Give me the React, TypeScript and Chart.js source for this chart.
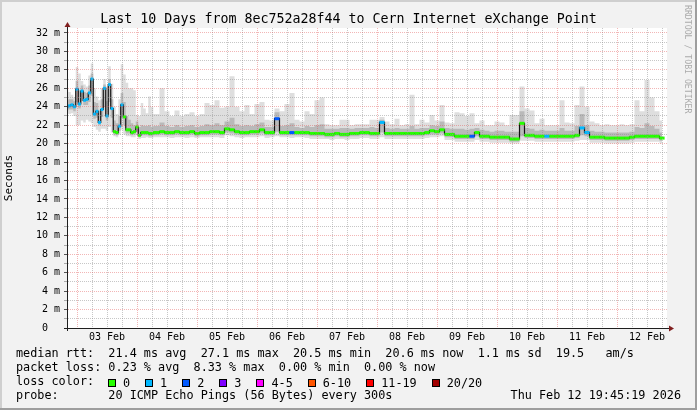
import React, { useEffect, useRef } from 'react';
import { Chart, registerables } from 'chart.js';
Chart.register(...registerables);

// ---- DATA ----
// sample times in hours since 02 Feb 00:00 (hourly for first 36 samples, then every 2 hours)
const HOURLY_START = 20;
const HOURLY_COUNT = 36;
const TWO_HOUR_START = 56;
const TWO_HOUR_COUNT = 102;

const median = [
  24.0, 24.1, 24.2, 24.0, 25.9, 24.3, 25.7, 24.7, 24.8, 25.5,
  27.0, 23.2, 23.5, 22.3, 23.7, 26.0, 23.0, 26.4, 23.8, 21.3,
  21.2, 21.9, 24.2, 22.9, 21.5, 21.5, 21.2, 21.3, 21.8, 20.9,
  21.2, 21.2, 21.2, 21.1, 21.1, 21.2,
  21.2, 21.3, 21.2, 21.2, 21.3, 21.2, 21.2, 21.3, 21.1, 21.2,
  21.2, 21.3, 21.3, 21.2, 21.6, 21.5, 21.3, 21.2, 21.2, 21.3,
  21.3, 21.5, 21.2, 21.2, 22.7, 21.2, 21.2, 21.2, 21.2, 21.2,
  21.2, 21.1, 21.1, 21.1, 21.0, 21.0, 21.1, 21.0, 21.0, 21.1,
  21.1, 21.2, 21.2, 21.1, 21.1, 22.3, 21.1, 21.1, 21.1, 21.1,
  21.1, 21.1, 21.1, 21.1, 21.2, 21.4, 21.3, 21.5, 21.0, 21.0,
  20.8, 20.8, 20.8, 20.8, 21.2, 20.8, 20.8, 20.7, 20.7, 20.7,
  20.7, 20.5, 20.5, 22.2, 20.9, 20.9, 20.8, 20.8, 20.8, 20.8,
  20.8, 20.8, 20.8, 20.8, 20.9, 21.7, 21.2, 20.7, 20.7, 20.7,
  20.6, 20.6, 20.6, 20.6, 20.6, 20.7, 20.8, 20.8, 20.8, 20.8,
  20.8, 20.6,
];

// lost pings (of 20) per sample
const lostPings = [
  1, 1, 1, 1, 1, 1, 1, 1, 1, 1,
  1, 1, 1, 1, 1, 1, 1, 1, 1, 0,
  0, 1, 1, 0, 0, 0, 0, 0, 0, 0,
  0, 0, 0, 0, 0, 0,
  0, 0, 0, 0, 0, 0, 0, 0, 0, 0,
  0, 0, 0, 0, 0, 0, 0, 0, 0, 0,
  0, 0, 0, 0, 2, 0, 0, 2, 0, 0,
  0, 0, 0, 0, 0, 0, 0, 0, 0, 0,
  0, 0, 0, 0, 0, 1, 0, 0, 0, 0,
  0, 0, 0, 0, 0, 0, 0, 0, 0, 0,
  0, 0, 0, 2, 0, 0, 0, 0, 0, 0,
  0, 0, 0, 0, 0, 0, 0, 0, 1, 0,
  0, 0, 0, 0, 0, 1, 1, 0, 0, 0,
  0, 0, 0, 0, 0, 0, 0, 0, 0, 0,
  0, 0,
];

const smokeMax = [
  25.8, 25.6, 25.3, 25.0, 28.3, 27.6, 26.8, 26.4, 26.2, 27.4,
  28.7, 26.0, 25.1, 24.7, 26.0, 27.0, 26.2, 28.4, 26.5, 24.0,
  23.2, 24.8, 28.6, 27.5, 26.6, 26.0, 26.0, 25.8, 23.1, 23.0,
  24.4, 23.8, 23.3, 25.1, 24.0, 23.2,
  23.2, 26.0, 23.5, 23.0, 23.6, 23.0, 23.2, 23.4, 23.0, 23.2,
  24.4, 24.2, 24.7, 23.9, 24.0, 27.3, 24.0, 23.5, 24.2, 23.2,
  24.3, 24.5, 22.6, 22.5, 23.8, 23.5, 24.3, 25.5, 22.6, 22.4,
  23.5, 23.2, 24.7, 25.0, 22.1, 22.0, 22.0, 22.6, 22.6, 22.0,
  22.1, 22.1, 22.1, 22.6, 22.6, 22.9, 22.4, 22.1, 22.7, 22.0,
  22.1, 25.3, 22.1, 22.6, 22.3, 23.1, 22.5, 24.2, 22.3, 22.2,
  23.4, 23.3, 23.0, 23.3, 22.2, 22.5, 22.0, 22.0, 22.4, 22.3,
  22.0, 23.1, 23.1, 26.2, 23.8, 23.6, 22.2, 22.7, 22.0, 22.0,
  22.0, 24.7, 22.3, 22.2, 24.2, 26.2, 24.0, 22.4, 22.2, 22.0,
  22.1, 22.0, 22.0, 22.1, 22.0, 22.1, 24.7, 23.5, 26.9, 25.0,
  23.5, 22.5,
];

const smokeHi = [
  24.7, 24.8, 24.8, 24.6, 26.8, 25.8, 26.3, 25.6, 25.5, 26.3,
  27.6, 24.5, 24.4, 23.6, 24.8, 26.4, 24.6, 27.0, 24.8, 22.5,
  22.2, 23.0, 25.5, 24.5, 23.0, 22.6, 22.2, 22.0, 22.4, 21.8,
  22.0, 21.9, 21.9, 22.0, 21.8, 21.9,
  21.9, 22.3, 21.9, 21.8, 22.0, 21.8, 21.9, 22.0, 21.8, 21.9,
  22.1, 22.0, 22.2, 22.0, 22.4, 22.8, 22.1, 21.9, 22.0, 21.9,
  22.1, 22.3, 21.8, 21.8, 23.4, 21.9, 22.0, 22.2, 21.8, 21.7,
  21.9, 21.8, 22.0, 22.1, 21.6, 21.6, 21.6, 21.7, 21.7, 21.6,
  21.7, 21.7, 21.7, 21.8, 21.7, 22.6, 21.7, 21.6, 21.7, 21.6,
  21.6, 21.9, 21.6, 21.7, 21.7, 22.0, 21.9, 22.4, 21.7, 21.6,
  21.6, 21.6, 21.5, 21.6, 21.7, 21.5, 21.4, 21.3, 21.4, 21.4,
  21.3, 21.3, 21.3, 23.5, 21.7, 21.6, 21.4, 21.5, 21.4, 21.4,
  21.4, 21.7, 21.4, 21.4, 21.9, 23.2, 22.0, 21.4, 21.3, 21.3,
  21.2, 21.2, 21.2, 21.2, 21.2, 21.3, 21.8, 21.7, 22.2, 21.9,
  21.6, 21.2,
];

const smokeLo = [
  23.6, 23.7, 23.7, 23.5, 24.5, 23.8, 24.6, 24.2, 24.2, 24.5,
  25.2, 22.7, 22.8, 22.0, 22.9, 24.0, 22.5, 24.5, 22.8, 21.0,
  20.9, 21.4, 22.8, 22.0, 21.1, 21.1, 20.9, 21.0, 21.3, 20.7,
  20.9, 20.9, 20.9, 20.8, 20.8, 20.9,
  20.9, 21.0, 20.9, 20.9, 21.0, 20.9, 20.9, 21.0, 20.8, 20.9,
  20.9, 21.0, 21.0, 20.9, 21.2, 21.1, 21.0, 20.9, 20.9, 21.0,
  21.0, 21.1, 20.9, 20.9, 21.3, 20.9, 20.9, 20.9, 20.9, 20.9,
  20.9, 20.8, 20.8, 20.8, 20.7, 20.7, 20.8, 20.7, 20.7, 20.8,
  20.8, 20.9, 20.9, 20.8, 20.8, 21.2, 20.8, 20.8, 20.8, 20.8,
  20.8, 20.8, 20.8, 20.8, 20.9, 21.0, 21.0, 21.1, 20.7, 20.7,
  20.5, 20.5, 20.5, 20.5, 20.8, 20.5, 20.5, 20.4, 20.4, 20.4,
  20.4, 20.2, 20.2, 20.8, 20.6, 20.6, 20.5, 20.5, 20.5, 20.5,
  20.5, 20.5, 20.5, 20.5, 20.6, 20.9, 20.8, 20.4, 20.4, 20.4,
  20.3, 20.3, 20.3, 20.3, 20.3, 20.4, 20.5, 20.5, 20.5, 20.5,
  20.5, 20.3,
];

const smokeMin = [
  23.3, 23.2, 23.3, 23.0, 22.0, 22.0, 22.5, 22.3, 22.6, 22.4,
  22.2, 21.8, 21.5, 21.3, 21.6, 21.6, 21.4, 21.8, 21.2, 20.8,
  20.7, 21.0, 21.5, 21.0, 20.8, 20.8, 20.7, 20.7, 20.9, 20.5,
  20.6, 20.6, 20.7, 20.6, 20.6, 20.7,
  20.7, 20.7, 20.7, 20.6, 20.7, 20.7, 20.6, 20.7, 20.6, 20.7,
  20.7, 20.7, 20.7, 20.6, 20.9, 20.8, 20.7, 20.6, 20.7, 20.7,
  20.7, 20.8, 20.6, 20.7, 20.8, 20.7, 20.7, 20.6, 20.7, 20.7,
  20.6, 20.5, 20.5, 20.5, 20.5, 20.4, 20.5, 20.5, 20.4, 20.5,
  20.5, 20.6, 20.6, 20.5, 20.5, 20.7, 20.5, 20.5, 20.5, 20.5,
  20.5, 20.5, 20.5, 20.5, 20.6, 20.7, 20.7, 20.8, 20.4, 20.4,
  20.2, 20.2, 20.2, 20.2, 20.4, 20.2, 20.2, 20.1, 20.1, 20.1,
  20.1, 20.0, 20.0, 20.3, 20.3, 20.3, 20.2, 20.2, 20.2, 20.2,
  20.2, 20.2, 20.2, 20.2, 20.3, 20.4, 20.4, 20.1, 20.1, 20.1,
  20.0, 20.0, 20.0, 20.0, 20.0, 20.1, 20.2, 20.2, 20.2, 20.2,
  20.2, 20.0,
];

const dayLabels = ['03 Feb', '04 Feb', '05 Feb', '06 Feb', '07 Feb', '08 Feb', '09 Feb', '10 Feb', '11 Feb', '12 Feb'];

const lossLegend = [
  { label: '0', max: 0, color: '#26ff00' },
  { label: '1', max: 1, color: '#00b8ff' },
  { label: '2', max: 2, color: '#0059ff' },
  { label: '3', max: 3, color: '#7e00ff' },
  { label: '4-5', max: 5, color: '#ff00ff' },
  { label: '6-10', max: 10, color: '#ff5500' },
  { label: '11-19', max: 19, color: '#ff0000' },
  { label: '20/20', max: 20, color: '#a10000' },
];

const TITLE = 'Last 10 Days from 8ec752a28f44 to Cern Internet eXchange Point';
const STATS_RTT = 'median rtt:  21.4 ms avg  27.1 ms max  20.5 ms min  20.6 ms now  1.1 ms sd  19.5   am/s';
const STATS_LOSS = 'packet loss: 0.23 % avg  8.33 % max  0.00 % min  0.00 % now';
const PROBE = 'probe:       20 ICMP Echo Pings (56 Bytes) every 300s';
const STAMP = 'Thu Feb 12 19:45:19 2026';
const WATERMARK = 'RRDTOOL / TOBI OETIKER';

// ---- helpers ----
const sampleTimes: number[] = [];
for (let i = 0; i < HOURLY_COUNT; i++) sampleTimes.push(HOURLY_START + i);
for (let k = 0; k < TWO_HOUR_COUNT; k++) sampleTimes.push(TWO_HOUR_START + 2 * k);

const toPoints = (vals: number[]) => vals.map((y, i) => ({ x: sampleTimes[i], y }));
const lossColor = (n: number) => {
  for (const l of lossLegend) if (n <= l.max) return l.color;
  return '#a10000';
};

const X_MIN = 20;
const X_MAX = 260;
const xTickValues: number[] = [];
for (let t = 24; t < X_MAX; t += 6) xTickValues.push(t);

const MONO = "'DejaVu Sans Mono', monospace";
const MAJOR = 'rgba(225,80,80,0.42)';
const MINOR = 'rgba(143,143,143,0.5)';

const bgPlugin = {
  id: 'canvasBg',
  beforeDraw(chart: any) {
    const { ctx, chartArea: a } = chart;
    ctx.save();
    ctx.fillStyle = '#ffffff';
    ctx.fillRect(a.left, a.top, a.right - a.left, a.bottom - a.top);
    ctx.restore();
  },
};

const arrowPlugin = {
  id: 'axisArrows',
  afterDraw(chart: any) {
    const { ctx, chartArea: a } = chart;
    ctx.save();
    ctx.strokeStyle = '#1f1f1f';
    ctx.lineWidth = 1;
    ctx.beginPath();
    ctx.moveTo(a.left + 0.5, a.top - 3);
    ctx.lineTo(a.left + 0.5, a.bottom + 3);
    ctx.stroke();
    ctx.beginPath();
    ctx.moveTo(a.left - 3, a.bottom + 0.5);
    ctx.lineTo(a.right + 4, a.bottom + 0.5);
    ctx.stroke();
    ctx.fillStyle = '#801f1f';
    ctx.beginPath();
    ctx.moveTo(a.left + 0.5, a.top - 6);
    ctx.lineTo(a.left - 2.5, a.top - 1);
    ctx.lineTo(a.left + 3.5, a.top - 1);
    ctx.closePath();
    ctx.fill();
    ctx.beginPath();
    ctx.moveTo(a.right + 7, a.bottom + 0.5);
    ctx.lineTo(a.right + 2, a.bottom - 2.5);
    ctx.lineTo(a.right + 2, a.bottom + 3.5);
    ctx.closePath();
    ctx.fill();
    ctx.restore();
  },
};

export default function App() {
  const ref = useRef<HTMLCanvasElement | null>(null);

  useEffect(() => {
    if (!ref.current) return;
    const band = (vals: number[], fill: any, color: string) => ({
      data: toPoints(vals),
      stepped: 'middle' as const,
      borderWidth: 0,
      borderColor: 'transparent',
      backgroundColor: color,
      pointRadius: 0,
      fill,
    });
    const chart = new Chart(ref.current, {
      type: 'line',
      data: {
        datasets: [
          {
            data: toPoints(median),
            showLine: false,
            pointStyle: 'line',
            pointRadius: (c: any) => (c.dataIndex < HOURLY_COUNT ? 1.4 : 2.6),
            pointBorderWidth: 3,
            pointBorderColor: (c: any) => lossColor(lostPings[c.dataIndex]),
            pointBackgroundColor: (c: any) => lossColor(lostPings[c.dataIndex]),
          } as any,
          {
            data: toPoints(median),
            stepped: 'middle',
            borderColor: '#111111',
            borderWidth: 1.2,
            pointRadius: 0,
            fill: false,
          },
          band(smokeHi, '+1', '#b9b9b9'),
          band(smokeLo, false, 'transparent'),
          band(smokeMax, '+1', '#dedede'),
          band(smokeMin, false, 'transparent'),
        ],
      },
      options: {
        animation: false,
        responsive: false,
        devicePixelRatio: 1,
        events: [],
        layout: { padding: { top: 28, left: 0, right: 30, bottom: 62 } },
        plugins: { legend: { display: false }, tooltip: { enabled: false }, title: { display: false } },
        scales: {
          x: {
            type: 'linear',
            min: X_MIN,
            max: X_MAX,
            afterBuildTicks: (s: any) => {
              s.ticks = xTickValues.map((v) => ({ value: v }));
            },
            afterFit: (s: any) => {
              s.height = 20;
            },
            ticks: {
              autoSkip: false,
              maxRotation: 0,
              minRotation: 0,
              padding: 3,
              color: '#000',
              font: { family: MONO, size: 10 },
              callback: (v: any) => {
                const t = Number(v);
                if ((t - 12) % 24 === 0) {
                  const d = (t - 36) / 24;
                  return dayLabels[d] ?? '';
                }
                return '';
              },
            },
            grid: {
              color: (c: any) => (c.tick && c.tick.value % 24 === 0 ? MAJOR : MINOR),
              drawTicks: false,
              z: 1,
            },
            border: { display: true, color: '#1f1f1f', width: 1, dash: [1, 1], z: 2 },
          },
          y: {
            min: 0,
            max: 32.54,
            afterFit: (s: any) => {
              s.width = 67;
            },
            ticks: {
              stepSize: 1,
              includeBounds: false,
              autoSkip: false,
              padding: 4,
              color: '#000',
              font: { family: MONO, size: 10 },
              callback: (v: any) => {
                const n = Number(v);
                if (n === 0) return '0  ';
                return n % 2 === 0 ? `${n} m` : '';
              },
            },
            grid: {
              color: (c: any) => (c.tick && c.tick.value % 2 === 0 ? MAJOR : MINOR),
              tickLength: 3,
              tickColor: (c: any) => (c.tick && c.tick.value % 2 === 0 ? '#555' : '#aaa'),
              z: 1,
            },
            border: { display: true, color: '#1f1f1f', width: 1, dash: [1, 1], z: 2 },
            title: {
              display: true,
              text: 'Seconds',
              color: '#000',
              font: { family: MONO, size: 11 },
              padding: { top: 3, bottom: 0 },
            },
          },
        },
      } as any,
      plugins: [bgPlugin, arrowPlugin],
    });
    return () => chart.destroy();
  }, []);

  const rowStyle = (top: number): React.CSSProperties => ({
    position: 'absolute',
    left: 16,
    top,
    font: `11.8px ${MONO}`,
    lineHeight: '14px',
    whiteSpace: 'pre',
    color: '#000',
  });

  return (
    <div
      style={{
        position: 'fixed',
        left: 0,
        top: 0,
        width: 697,
        height: 410,
        background: '#f2f2f2',
        overflow: 'hidden',
      }}
    >
      <div style={{ position: 'absolute', left: 0, top: 0, width: 697, height: 2, background: '#cfcfcf' }} />
      <div style={{ position: 'absolute', left: 0, top: 0, width: 2, height: 410, background: '#cfcfcf' }} />
      <div style={{ position: 'absolute', left: 0, top: 408, width: 697, height: 2, background: '#9e9e9e' }} />
      <div style={{ position: 'absolute', left: 695, top: 0, width: 2, height: 410, background: '#9e9e9e' }} />
      <canvas ref={ref} width={697} height={410} style={{ position: 'absolute', left: 0, top: 0, display: 'block' }} />
      <div
        style={{
          position: 'absolute',
          left: 0,
          width: 697,
          top: 11.4,
          textAlign: 'center',
          font: `13.3px ${MONO}`,
          lineHeight: '16px',
          whiteSpace: 'pre',
          color: '#000',
        }}
      >
        {TITLE}
      </div>
      <div style={rowStyle(346.4)}>{STATS_RTT}</div>
      <div style={rowStyle(360.4)}>{STATS_LOSS}</div>
      <div style={rowStyle(374.4)}>loss color:</div>
      <div
        style={{
          position: 'absolute',
          left: 108,
          top: 375.7,
          height: 14,
          display: 'flex',
          alignItems: 'center',
          font: `11.8px ${MONO}`,
          lineHeight: '14px',
          whiteSpace: 'pre',
        }}
      >
        {lossLegend.map((l) => (
          <div key={l.label} style={{ display: 'flex', alignItems: 'center', marginRight: 15 }}>
            <span
              style={{
                display: 'inline-block',
                width: 8,
                height: 8,
                boxSizing: 'border-box',
                border: '1px solid #000',
                background: l.color,
                marginRight: 7,
              }}
            />
            <span>{l.label}</span>
          </div>
        ))}
      </div>
      <div style={rowStyle(388.4)}>{PROBE}</div>
      <div style={{ ...rowStyle(388.4), left: undefined, right: 16 }}>{STAMP}</div>
      <div
        style={{
          position: 'absolute',
          left: 683,
          top: 5,
          writingMode: 'vertical-rl',
          font: `8.2px ${MONO}`,
          lineHeight: '9px',
          color: '#ababab',
          whiteSpace: 'pre',
        }}
      >
        {WATERMARK}
      </div>
    </div>
  );
}
